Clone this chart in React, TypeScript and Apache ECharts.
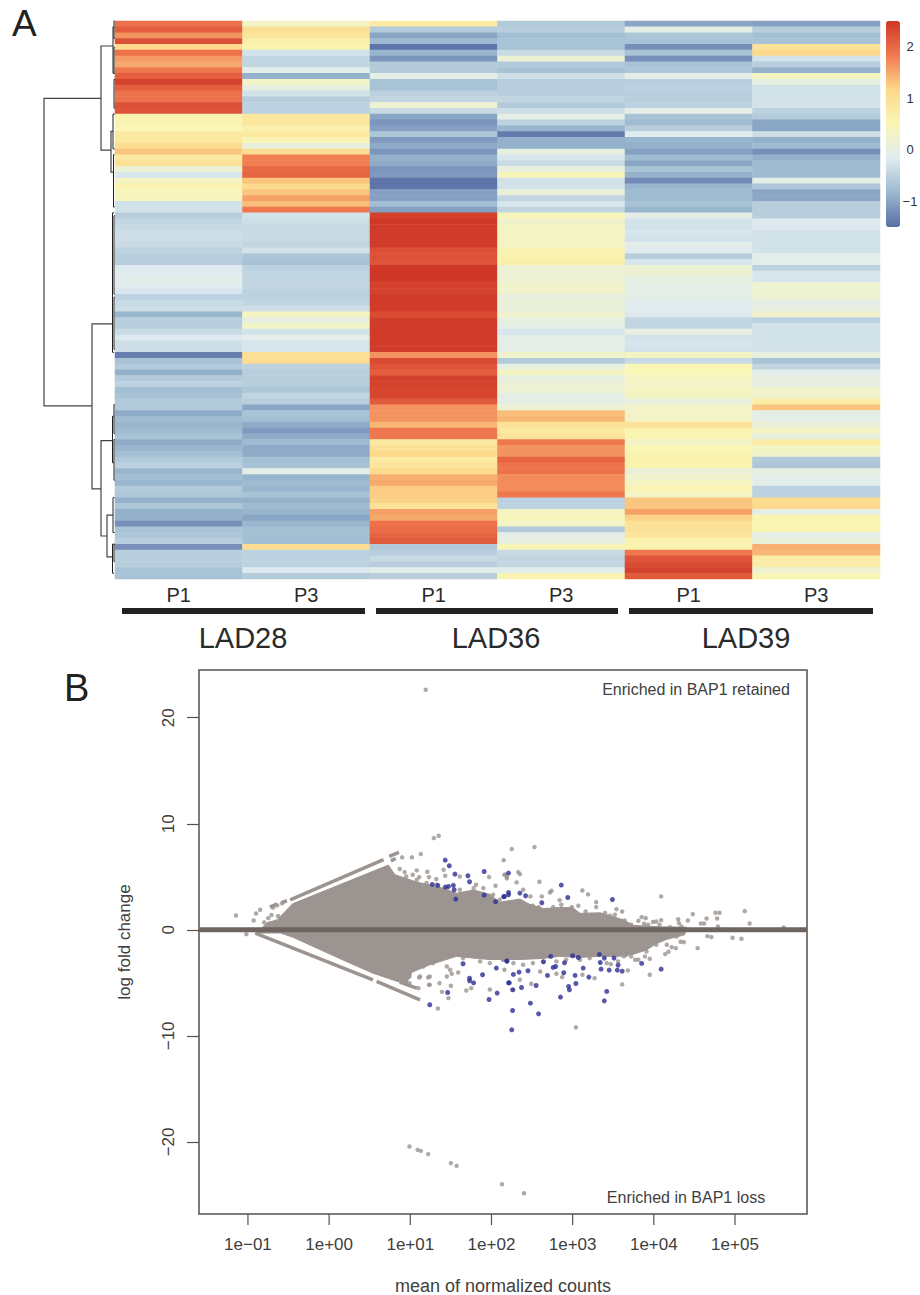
import React, { useEffect, useRef } from "react";
import * as echarts from "echarts";

const columns = ["P1", "P3", "P1", "P3", "P1", "P3"];
const lad28P1 = [1.9,2.1,1.65,2.25,1.1,1.9,1.6,1.5,1.85,2.1,2.4,2.1,1.9,1.9,2.25,2.2,0.55,0.55,0.5,0.8,0.8,1.05,1.3,0.8,1.0,0.15,-0.25,0.35,0.6,0.4,0.4,-0.3,-0.3,-0.55,-0.45,-0.4,-0.35,-0.35,-0.38,-0.5,-0.55,-0.55,-0.2,-0.15,-0.1,-0.15,-0.25,-0.5,-0.4,-0.35,-0.85,-0.55,-0.55,-0.4,-0.2,-0.35,-0.35,-1.35,-0.7,-0.6,-0.9,-0.6,-0.5,-0.75,-0.7,-0.6,-0.6,-0.95,-0.8,-0.85,-0.8,-0.7,-0.95,-0.85,-0.75,-0.6,-0.5,-0.85,-0.75,-0.85,-0.6,-0.65,-0.9,-0.65,-0.9,-0.9,-1.2,-0.7,-0.65,-0.55,-1.2,-0.55,-0.55,-0.55,-0.7,-0.7];
const lad28P3 = [0.3,1.0,0.9,0.65,0.6,-0.3,-0.45,-0.45,-0.1,-0.9,0.3,0.0,-0.3,-0.55,-0.5,-0.5,0.85,0.85,0.65,0.8,0.55,0.05,1.05,1.8,1.8,2.0,2.05,1.3,1.1,1.3,1.55,1.35,1.85,-0.3,-0.35,-0.4,-0.4,-0.4,-0.45,-0.3,-0.65,-0.7,-0.5,-0.45,-0.45,-0.45,-0.5,-0.5,-0.45,-0.35,0.35,0.0,0.3,-0.3,-0.1,-0.25,-0.25,1.0,1.05,-0.5,-0.55,-0.55,-0.55,-0.65,-0.45,-0.55,-1.0,-0.7,-0.75,-0.95,-1.1,-0.95,-0.8,-0.95,-0.95,-0.75,-0.7,-0.05,-0.85,-0.8,-0.85,-0.7,-0.9,-0.8,-0.85,-1.0,-0.85,-0.75,-0.75,-0.75,1.05,-0.5,-0.5,-0.5,-0.2,-0.6];
const lad36P1 = [0.75,-0.6,-1.0,-0.8,-1.45,-0.85,-1.15,-0.6,-0.6,-0.05,-0.7,-0.7,-0.5,-0.45,0.2,-0.4,-1.0,-1.15,-1.05,-0.65,-1.1,-0.95,-1.15,-0.9,-0.95,-1.15,-1.1,-1.45,-1.45,-1.05,-1.05,-0.75,-1.05,2.4,2.5,2.45,2.45,2.45,2.45,2.25,2.25,2.2,2.5,2.5,2.5,2.4,2.4,2.45,2.45,2.45,2.3,2.45,2.45,2.45,2.45,2.45,2.45,1.65,2.3,2.2,2.1,2.4,2.4,2.35,2.35,2.15,1.65,1.65,1.65,1.4,1.85,1.85,0.8,1.0,1.15,0.75,0.9,1.1,1.45,1.5,1.25,1.25,1.2,0.95,1.55,1.5,1.9,1.95,2.05,2.15,-0.6,-0.55,-0.4,-0.55,-0.1,-0.55];
const lad36P3 = [-0.6,-0.55,-0.75,-0.7,-0.7,-0.4,0.15,-0.6,-0.7,-0.35,-0.55,-0.55,-0.55,-0.45,-0.6,-0.35,-0.05,-0.5,-0.85,-1.4,-0.9,-0.9,0.0,-0.25,-0.4,0.05,0.45,-0.3,-0.3,0.1,-0.45,-0.25,-0.45,0.42,0.25,0.35,0.35,0.33,0.33,0.6,0.6,0.65,0.15,0.15,0.15,0.25,0.25,0.05,0.1,0.05,0.25,0.0,-0.05,-0.25,-0.05,-0.05,-0.05,0.25,-0.6,0.0,0.35,0.0,0.12,0.15,-0.05,-0.05,0.15,1.35,1.4,0.95,0.8,0.95,1.85,1.65,1.65,2.05,1.9,1.9,1.7,1.7,1.7,1.85,-0.5,-0.5,0.35,0.42,0.3,-0.6,-0.05,0.05,0.45,-0.4,-0.45,-0.45,-0.1,0.55];
const lad39P1 = [-1.0,-0.05,-0.65,-0.7,-1.2,-0.7,-1.2,-0.7,-0.65,-0.05,-0.55,-0.5,-0.55,-0.55,-0.5,-0.05,-0.7,-0.8,-0.55,-0.15,-0.85,-0.9,-1.05,-0.8,-1.0,-0.7,-0.9,-1.25,-0.85,-0.8,-0.8,-0.7,-0.85,-0.05,-0.3,-0.3,-0.25,-0.3,-0.1,-0.15,-0.55,-0.25,0.15,0.15,0.0,-0.05,-0.05,-0.05,-0.15,-0.15,-0.2,-0.45,-0.45,0.0,-0.3,-0.25,-0.3,0.35,-0.4,0.5,0.5,0.35,0.3,0.35,0.35,0.0,0.3,0.3,0.3,0.95,0.55,0.55,0.3,0.5,0.6,0.6,0.6,0.1,0.25,0.35,0.55,0.3,1.3,1.3,1.55,1.2,0.95,0.95,0.9,0.6,0.6,1.85,2.2,2.3,2.4,2.15];
const lad39P3 = [-1.05,-0.55,-0.75,-0.7,0.95,1.15,-0.3,-0.55,-0.9,0.35,0.0,-0.3,-0.3,-0.3,-0.3,-0.5,-0.6,-1.0,-1.0,-0.35,-0.9,-0.8,-1.2,-0.9,-0.8,-0.8,-0.8,-0.05,-0.65,-1.0,-1.0,-0.55,-0.55,-0.55,-0.2,-0.2,-0.3,-0.3,-0.3,-0.3,-0.1,-0.1,-0.5,-0.25,-0.25,0.2,0.2,0.15,-0.05,0.0,0.25,-0.5,-0.3,-0.3,-0.3,-0.3,-0.3,0.0,-0.7,-0.45,-0.1,0.0,0.0,0.25,0.25,0.7,1.3,-0.05,-0.05,0.1,0.35,0.05,0.75,0.35,0.25,-0.6,-0.65,0.0,-0.1,-0.1,-0.5,-0.5,1.1,1.15,-0.05,0.55,0.55,0.55,-0.05,0.1,1.45,1.4,0.7,0.7,0.2,0.5];
const heatColumns = [lad28P1, lad28P3, lad36P1, lad36P3, lad39P1, lad39P3];
const heatColours = ["#5a6ea6", "#9ab8cf", "#e0ecf0", "#faf6b5", "#fcd88a", "#f0794f", "#cf3727"];
const rowNames = lad28P1.map((_, i) => "gene" + (i + 1));

// merges: [height, rowA, heightA, rowB, heightB]
const merges = [
  [71,13.3,14,66.2,23],[14,4.3,2,22.2,4],[23,52.1,2.5,80.5,14],[14,72.2,2.5,88.6,8],[8,85,2,92.2,2.5],
  [2,1,1,9,1],[1,0,0.2,3,0.2],[1,4.5,0.2,9,0.2],[1,10,0.2,15,0.2],
  [4,19,2,26,1.5],[2,16,0.3,22,0.3],[1.5,23,0.3,32,0.3],
  [2.5,33,1,57,1],[1,33.5,0.2,47,0.2],[1,47.5,0.2,56.5,0.2],
  [2.5,68,1,76,1],[1,66,0.2,71,0.2],[1,72,0.2,79,0.2],
  [2,82,0.5,88,0.5],[2.5,90,1,95,1],[1,90,0.2,93,0.2],
];

// [log10 mean, log fold change]
const grayPoints = [
  [1.19,22.64],[0.99,-20.44],[1.09,-20.75],[1.13,-20.85],[1.22,-21.15],[1.5,-22],[1.57,-22.26],[2.13,-23.99],[2.4,-24.85],
  [-1.148,1.35],[-1.02,-0.41],[-0.93,0.88],[-0.9,1.54],[-0.85,1.89],[1.29,8.65],[1.35,8.87],[1.13,7.14],[1.02,6.83],[0.9,6.83],[1.34,-7.42],[2.15,6.57],
  [-0.8,0.7],[-0.75,1.1],[-0.71,1.4],[-0.69,2.1],[-0.64,2.3],[-0.58,2.5],[-0.63,1.3],[-0.73,0.6],[-0.67,0.45],
  [1.21,5.47],[1.08,5.6],[0.93,5.44],[0.87,5.73],[1.03,5.19],[1.11,4.97],[1.41,5.66],[1.43,5.1],[1.61,5.03],[1.81,4.25],[1.97,4.97],[2.05,4.15],[2.17,5.19],[2.19,4.97],[1.23,4.97],[1.32,4.78],
  [1.23,-5.19],[1.36,-5.03],[1.39,-5.85],[1.47,-6.44],[1.5,-5.28],[1.69,-5.72],[1.75,-5.5],[1.98,-5.63],[1.45,-4.4],[1.22,-4.5],[1.11,-4.5],[0.97,-4.4],[1.1,-5.5],[0.99,-5.03],[1.59,-4.02],[1.51,-4.15],
  [0.89,-4.25],[0.99,-3.93],[1.12,-4.4],[1.24,-4.4],[0.99,-4.4],[1.24,-5.19],[0.95,-5.03],
  [2.25,7.61],[2.53,7.8],[3.04,-9.2],[2.16,5.19],[2.33,5.44],[2.35,5.25],[2.19,4.85],[2.31,4.47],[2.59,4.53],[2.72,3.52],[2.74,3.68],[2.62,3.15],[2.39,3.78],[2.48,3.15],[2.84,2.8],[3.07,2.27],[3.12,3.71],[3.19,3.34],[3.29,2.61],[3.29,2.14],[3.54,1.95],[3.61,1.73],[4.09,3.15],[4.48,1.48],[4.42,0.88],[4.3,1.0],[4.31,0.63],[4.58,0.6],[4.62,0.6],[4.65,1.07],[4.76,1.61],[4.81,1.61],[4.78,1.07],[4.79,0.32],[5.12,1.76],[5.18,0.6],[5.6,0.22],[3.85,1.2],[3.9,1.1],[3.81,0.85],[3.99,0.73],[4.03,0.79],[4.09,0.91],[3.88,0.57],
  [3.95,-4.24],[3.61,-5.15],[3.68,-3.83],[4.54,-1.73],[4.37,-1.16],[4.33,-1.13],[4.66,-0.6],[4.71,-0.69],[4.97,-0.75],[5.08,-0.85],[4.18,-2.07],[4.14,-2.29],[4.27,-1.73],[4.22,-1.63],[3.95,-2.73],[3.89,-2.51],[3.81,-2.83],[3.77,-2.83],[3.72,-2.51],[3.63,-2.51],[3.47,-3.24],[3.27,-4.56],[3.12,-4.24],[2.8,-4.15],[2.87,-4.46],[2.6,-3.93],[2.49,-5.09],[2.35,-4.71],[2.27,-5.66],[2.16,-3.77],
];
const cloudEdgePoints = [
  [2.51,2.27],[2.58,2.14],[2.76,2.14],[2.86,2.36],[2.99,2.14],[3.16,1.73],[3.4,1.58],[3.46,1.32],[3.52,1.42],[3.64,0.88],[3.72,0.47],[3.93,0.47],[4.07,0.47],[4.2,0.25],[4.34,0.32],
  [2.14,-2.83],[2.27,-3.14],[2.39,-3.3],[2.51,-3.14],[2.64,-2.98],[2.8,-2.98],[2.92,-2.83],[3.09,-2.83],[3.21,-2.67],[3.42,-3.14],[3.56,-2.98],[3.66,-2.36],[4.03,-1.41],[4.16,-1.41],[3.91,-2.04],[4.28,-0.63],
  [2.15,-2.83],[1.98,-3.14],[1.86,-2.98],[1.65,-2.67],[1.45,-3.46],[1.49,-3.77],[1.28,-3.14],[1.16,-3.46],[0.99,-4.09],[0.83,-4.4],[0.71,-3.77],
  [0.95,5.03],[1.08,4.72],[1.2,4.41],[1.32,4.25],[1.45,3.93],[1.61,3.78],[1.78,3.93],[1.9,3.93],[2.02,3.31],[2.1,2.83],
];
const bluePoints = [
  [1.43,6.57],[1.48,6.04],[1.55,5.25],[1.71,5.1],[1.91,5.5],[1.73,4.53],[1.27,4.28],[1.34,4.19],[1.43,4.03],[1.47,4.09],[1.53,4.19],[1.54,3.78],[1.56,2.9],[1.91,3.27],[2.05,2.65],[2.15,3.12],[2.21,3.3],[2.21,5.35],
  [1.24,-7.07],[1.65,-3.2],[1.73,-4.56],[1.73,-4.81],[1.78,-5.0],[1.46,-5.91],[1.97,-6.57],[2.07,-5.97],[1.89,-4.24],[2.06,-3.61],[2.19,-2.95],[2.21,-5.0],
  [2.86,4.22],[2.94,3.05],[3.49,2.86],[2.62,2.55],[2.35,3.46],[2.21,3.52],[2.16,3.15],[2.42,3.21],
  [2.25,-9.43],[2.26,-7.61],[2.58,-7.92],[2.48,-6.92],[2.85,-6.35],[3.39,-6.7],[3.42,-5.81],[3.04,-5.06],[2.96,-5.66],[2.95,-5.34],[2.55,-5.25],[2.37,-5.44],[2.26,-5.66],[2.22,-5.0],[2.69,-4.3],[2.89,-4.05],[3.03,-4.3],[3.2,-4.46],[3.13,-3.61],[3.35,-3.71],[3.45,-3.8],[3.55,-3.8],[3.61,-3.9],[3.56,-3.33],[3.34,-3.08],[3.39,-2.67],[3.51,-2.67],[3.33,-2.32],[3.85,-3.17],[4.09,-3.71],[2.79,-3.46],[2.76,-3.55],[2.9,-3.11],[2.73,-2.51],[2.45,-3.86],[2.27,-4.21],[2.34,-3.99],[2.19,-2.95],[2.64,-3.02],[3.0,-2.45],[3.07,-2.61],
];
// outline of the dense cloud
const cloudOutline = [
  [-0.77,0.63],[-0.64,0.95],[-0.45,2.45],[0.73,6.1],[0.81,5.2],[1.08,4.5],[1.37,4.0],[1.57,3.45],[1.78,3.75],[1.98,3.35],[2.1,2.6],[2.35,2.9],[2.47,2.4],[2.64,2.0],[2.84,2.1],[3.0,2.1],[3.09,1.55],[3.34,1.6],[3.62,0.95],[3.75,0.42],[4.07,0.28],[4.4,0.25],
  [4.38,-0.47],[4.16,-0.9],[4.03,-1.3],[3.91,-1.9],[3.75,-2.3],[3.58,-2.5],[3.34,-2.5],[3.09,-2.6],[2.84,-2.5],[2.64,-2.7],[2.35,-2.8],[1.98,-2.8],[1.82,-2.7],[1.57,-2.5],[1.24,-3.3],[1.02,-4.0],[0.95,-5.1],[0.87,-4.94],[0.54,-4.09],[0.256,-3.14],[-0.15,-1.73],[-0.44,-0.72],[-0.6,-0.3],[-0.89,-0.31],
];
const diagonalBands = [
  [[-0.73,2.14],[-0.64,2.45]],
  [[-0.58,2.58],[-0.52,2.74]],
  [[-0.48,2.83],[0.67,6.61]],
  [[0.74,6.92],[0.86,7.3]],
  [[0.76,6.5],[0.82,6.72]],
  [[-0.91,-0.31],[0.54,-4.72]],
  [[0.585,-4.87],[1.12,-6.6]],
  [[0.87,-4.94],[1.08,-5.5]],
];
const xTicks = [0.1, 1, 10, 100, 1000, 10000, 100000];
const yTicks = [-20, -10, 0, 10, 20];
const colourTicks = [-1, 0, 1, 2];
const groupLabels = [
  { name: "LAD28", centre: 243, from: 122, to: 365 },
  { name: "LAD36", centre: 496, from: 376, to: 618 },
  { name: "LAD39", centre: 746, from: 629, to: 873 },
];

const FONT = '"Liberation Sans", Arial, sans-serif';
const GRAY = "#9c9490";
const Y_MIN = -26.8;
const toPoint = (p: number[]) => [Math.pow(10, p[0]), p[1]];
const minus = (s: string) => s.replace("-", "\u2212");

export default function App() {
  const ref = useRef<HTMLDivElement>(null);
  useEffect(() => {
    const chart = echarts.init(ref.current!, null, { renderer: "svg" });
    const heatData: number[][] = [];
    heatColumns.forEach((col, c) => col.forEach((v, r) => heatData.push([c, r, v])));
    const hidden = { show: false };
    const noAxisParts = { axisLine: hidden, axisTick: hidden, splitLine: hidden };
    chart.setOption({
      animation: false,
      backgroundColor: "#ffffff",
      textStyle: { fontFamily: FONT },
      grid: [
        { left: 115, top: 21, width: 765, height: 558, outerBoundsMode: "none" },
        { left: 44, top: 21, width: 71, height: 558, outerBoundsMode: "none" },
        { left: 886, top: 21, width: 14, height: 206, outerBoundsMode: "none" },
        { left: 199, top: 670, width: 608, height: 544, outerBoundsMode: "none", show: true, borderColor: "#55504c", borderWidth: 1.5, backgroundColor: "transparent" },
      ],
      xAxis: [
        { type: "category", gridIndex: 0, data: columns, ...noAxisParts, axisLabel: { interval: 0, fontSize: 20, color: "#2a2a2a", margin: 6, fontFamily: FONT } },
        { type: "value", gridIndex: 1, min: 0, max: 71, inverse: true, show: false },
        { type: "value", gridIndex: 2, min: 0, max: 1, show: false },
        {
          type: "log", gridIndex: 3, min: Math.pow(10, -1.603), max: Math.pow(10, 5.887), position: "bottom",
          name: "mean of normalized counts", nameLocation: "middle", nameGap: 63,
          nameTextStyle: { fontSize: 18, color: "#404040", fontFamily: FONT },
          axisLine: { show: false, onZero: false }, splitLine: hidden, minorTick: hidden,
          axisTick: hidden,
          axisLabel: {
            fontSize: 17, color: "#404040", margin: 22, fontFamily: FONT, customValues: xTicks,
            formatter: (v: number) => {
              const e = Math.round(Math.log10(v));
              return "1e" + (e < 0 ? "\u2212" : "+") + String(Math.abs(e)).padStart(2, "0");
            },
          },
        },
      ],
      yAxis: [
        { type: "category", gridIndex: 0, data: rowNames, inverse: true, show: false },
        { type: "value", gridIndex: 1, min: 0, max: 96, inverse: true, show: false },
        {
          type: "value", gridIndex: 2, min: -1.5, max: 2.5, position: "right", ...noAxisParts,
          axisLabel: { customValues: colourTicks, fontSize: 13, color: "#333", margin: 10, align: "center", fontFamily: FONT, formatter: (v: number) => minus(String(v)) },
        },
        {
          type: "value", gridIndex: 3, min: Y_MIN, max: 24.5,
          name: "log fold change", nameLocation: "middle", nameGap: 66,
          nameTextStyle: { fontSize: 17, color: "#404040", fontFamily: FONT },
          axisLine: hidden, splitLine: hidden,
          axisTick: { show: true, length: 12, customValues: yTicks, lineStyle: { color: "#55504c", width: 1.2 } },
          axisLabel: { customValues: yTicks, rotate: 90, fontSize: 17, color: "#404040", margin: 22, fontFamily: FONT, formatter: (v: number) => minus(String(v)) },
        },
      ],
      visualMap: {
        type: "continuous", seriesIndex: 0, min: -1.5, max: 2.5, calculable: false, hoverLink: false,
        left: 886, top: 21, itemWidth: 14, itemHeight: 206, padding: 0, text: ["", ""], showLabel: false,
        inRange: { color: heatColours },
      },
      series: [
        {
          type: "heatmap", xAxisIndex: 0, yAxisIndex: 0, data: heatData, progressive: 0,
          itemStyle: { borderWidth: 0 }, emphasis: { disabled: true },
        },
        {
          type: "custom", xAxisIndex: 1, yAxisIndex: 1, data: merges, clip: false, silent: true,
          encode: { x: 0, y: 1 },
          renderItem: (_: any, api: any) => {
            const h = api.value(0), ra = api.value(1), ha = api.value(2), rb = api.value(3), hb = api.value(4);
            return {
              type: "polyline",
              shape: { points: [api.coord([ha, ra]), api.coord([h, ra]), api.coord([h, rb]), api.coord([hb, rb])] },
              style: { stroke: h < 3.5 ? "#222" : "#444", lineWidth: h < 3.5 ? 1 : 1.2, fill: "none" },
            };
          },
        },
        {
          type: "custom", xAxisIndex: 3, yAxisIndex: 3, data: xTicks.map((v) => [v, Y_MIN]), clip: false, silent: true,
          encode: { x: 0, y: 1 },
          renderItem: (_: any, api: any) => {
            const p = api.coord([api.value(0), api.value(1)]);
            return {
              type: "line",
              shape: { x1: p[0], y1: p[1], x2: p[0], y2: p[1] + 11 },
              style: { stroke: "#55504c", lineWidth: 1.2 },
            };
          },
        },
        {
          type: "custom", xAxisIndex: 3, yAxisIndex: 3, data: cloudOutline.map(toPoint), silent: true, z: 2,
          encode: { x: 0, y: 1 },
          renderItem: (params: any, api: any) => {
            if (params.dataIndex !== 0) return null;
            return {
              type: "polygon",
              shape: { points: cloudOutline.map((p) => api.coord(toPoint(p))) },
              style: { fill: GRAY, stroke: GRAY, lineWidth: 1 },
            };
          },
        },
        ...diagonalBands.map((band) => ({
          type: "line", xAxisIndex: 3, yAxisIndex: 3, data: band.map(toPoint), showSymbol: false, silent: true, z: 2,
          lineStyle: { color: GRAY, width: 3.5 },
        })),
        {
          type: "scatter", xAxisIndex: 3, yAxisIndex: 3, data: grayPoints.concat(cloudEdgePoints).map(toPoint), symbolSize: 4.5, silent: true, z: 3,
          itemStyle: { color: GRAY },
        },
        {
          type: "scatter", xAxisIndex: 3, yAxisIndex: 3, data: bluePoints.map(toPoint), symbolSize: 5, silent: true, z: 4,
          itemStyle: { color: "#2e2e96" },
        },
        {
          type: "line", xAxisIndex: 3, yAxisIndex: 3, silent: true, showSymbol: false, z: 5,
          data: [[Math.pow(10, -1.603), 0], [Math.pow(10, 5.887), 0]],
          lineStyle: { color: "#6e6560", width: 5 },
        },
      ],
      graphic: [
        { type: "text", left: 12, top: 5, style: { text: "A", font: `37px ${FONT}`, fill: "#222" } },
        { type: "text", left: 64, top: 669, style: { text: "B", font: `38px ${FONT}`, fill: "#222" } },
        ...groupLabels.map((g) => ({
          type: "rect", shape: { x: g.from, y: 608, width: g.to - g.from, height: 6 }, style: { fill: "#222" },
        })),
        ...groupLabels.map((g) => ({
          type: "text", x: g.centre, y: 638,
          style: { text: g.name, font: `29px ${FONT}`, fill: "#2a2a2a", textAlign: "center", textVerticalAlign: "middle" },
        })),
        { type: "text", x: 696, y: 689, style: { text: "Enriched in BAP1 retained", font: `16px ${FONT}`, fill: "#404040", textAlign: "center", textVerticalAlign: "middle" } },
        { type: "text", x: 686, y: 1197, style: { text: "Enriched in BAP1 loss", font: `16px ${FONT}`, fill: "#404040", textAlign: "center", textVerticalAlign: "middle" } },
      ],
    });
    return () => chart.dispose();
  }, []);
  return <div ref={ref} style={{ position: "absolute", left: 0, top: 0, width: 920, height: 1295 }} />;
}
